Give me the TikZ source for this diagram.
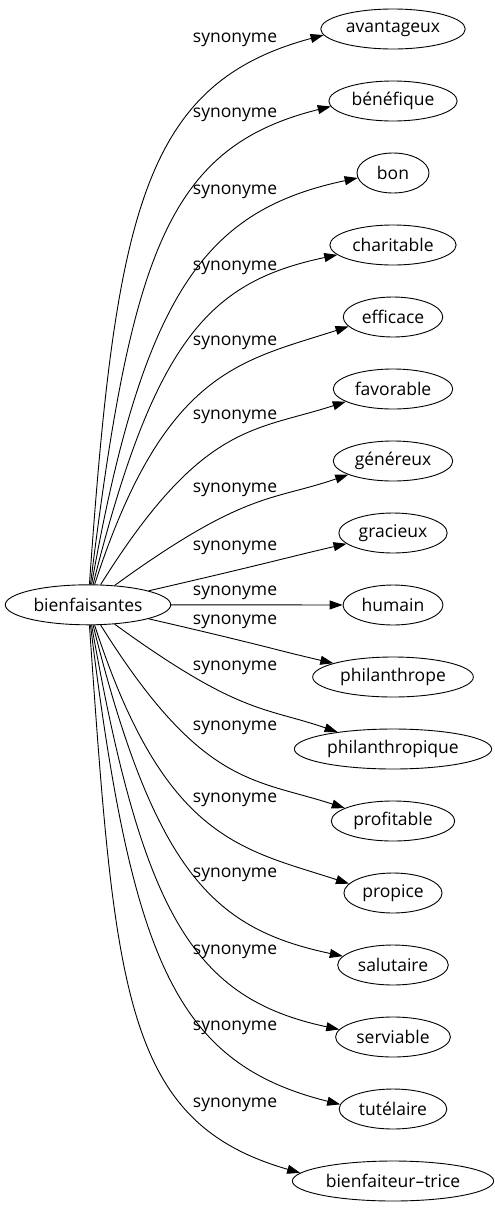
\documentclass[tikz,border=0pt]{standalone}
\usepackage{fontspec}
\setmainfont{Open Sans}
\usetikzlibrary{arrows.meta}
\usetikzlibrary{shapes}
\tikzstyle{word}=[ellipse,draw,line width=0.9pt,minimum height=40pt,minimum width=72pt,inner xsep=4pt,font=\fontsize{17.5}{21}\selectfont]
\tikzstyle{edge} = [draw,line width=0.9pt,-{Triangle[length=13pt,width=9pt]}]
\tikzstyle{weight} = [font=\fontsize{17.5}{21}\selectfont]

\begin{document}
\begin{tikzpicture}[x=1pt,y=1pt]

   \useasboundingbox (0,0) rectangle (495,-1211);

   \def\cx{393};
   \def\lx{235};

%root
    \node[word] (bf) at (88,-604.8) {bienfaisantes};

%synonyms
    \foreach \name/\y/\label in {s1/29/avantageux, s2/101/bénéfique, s3/173/bon, s4/245/charitable,
        s5/317/efficace, s6/389/favorable, s7/461/généreux, s8/533/gracieux, s9/605/humain,
        s10/677/philanthrope, s11/749/philanthropique, s12/821/profitable, s13/893/propice,
        s14/965/salutaire, s15/1037/serviable, s16/1109/tutélaire, s17/1181/bienfaiteur–trice}
        \node[word] (\name) at (\cx,-\y) {\label};

% Edges
    \foreach \dest/\out/\in/\at in {s1/86/195/185, s2/83/194/185, s3/80/192/188, s4/76/192/190,
        s5/72/198/192, s6/58/198/195, s7/36/199/197, s8/13/193/193,
        s10/-13/167/167, s11/-36/161/163, s12/-58/162/165, s13/-72/162/168,
        s14/-76/168/170, s15/-80/168/172, s16/-83/166/175, s17/-86/164/175}
        \path[edge] (bf) to[out=\out,in=\in,out looseness=1.6,in looseness=0.8] (\dest.\at);

    \path[edge] (bf) -- (s9);

%Label
    \foreach \name/\y in {w1/40, w2/115, w3/192, w4/268, w5/343, w6/417, w7/490, w8/548, w9/593,
        w10/622, w11/668, w12/728, w13/800, w14/875, w15/952, w16/1028, w17/1105}
        \node[weight] (\name) at (\lx,-\y) {synonyme};

\end{tikzpicture}
\end{document}
